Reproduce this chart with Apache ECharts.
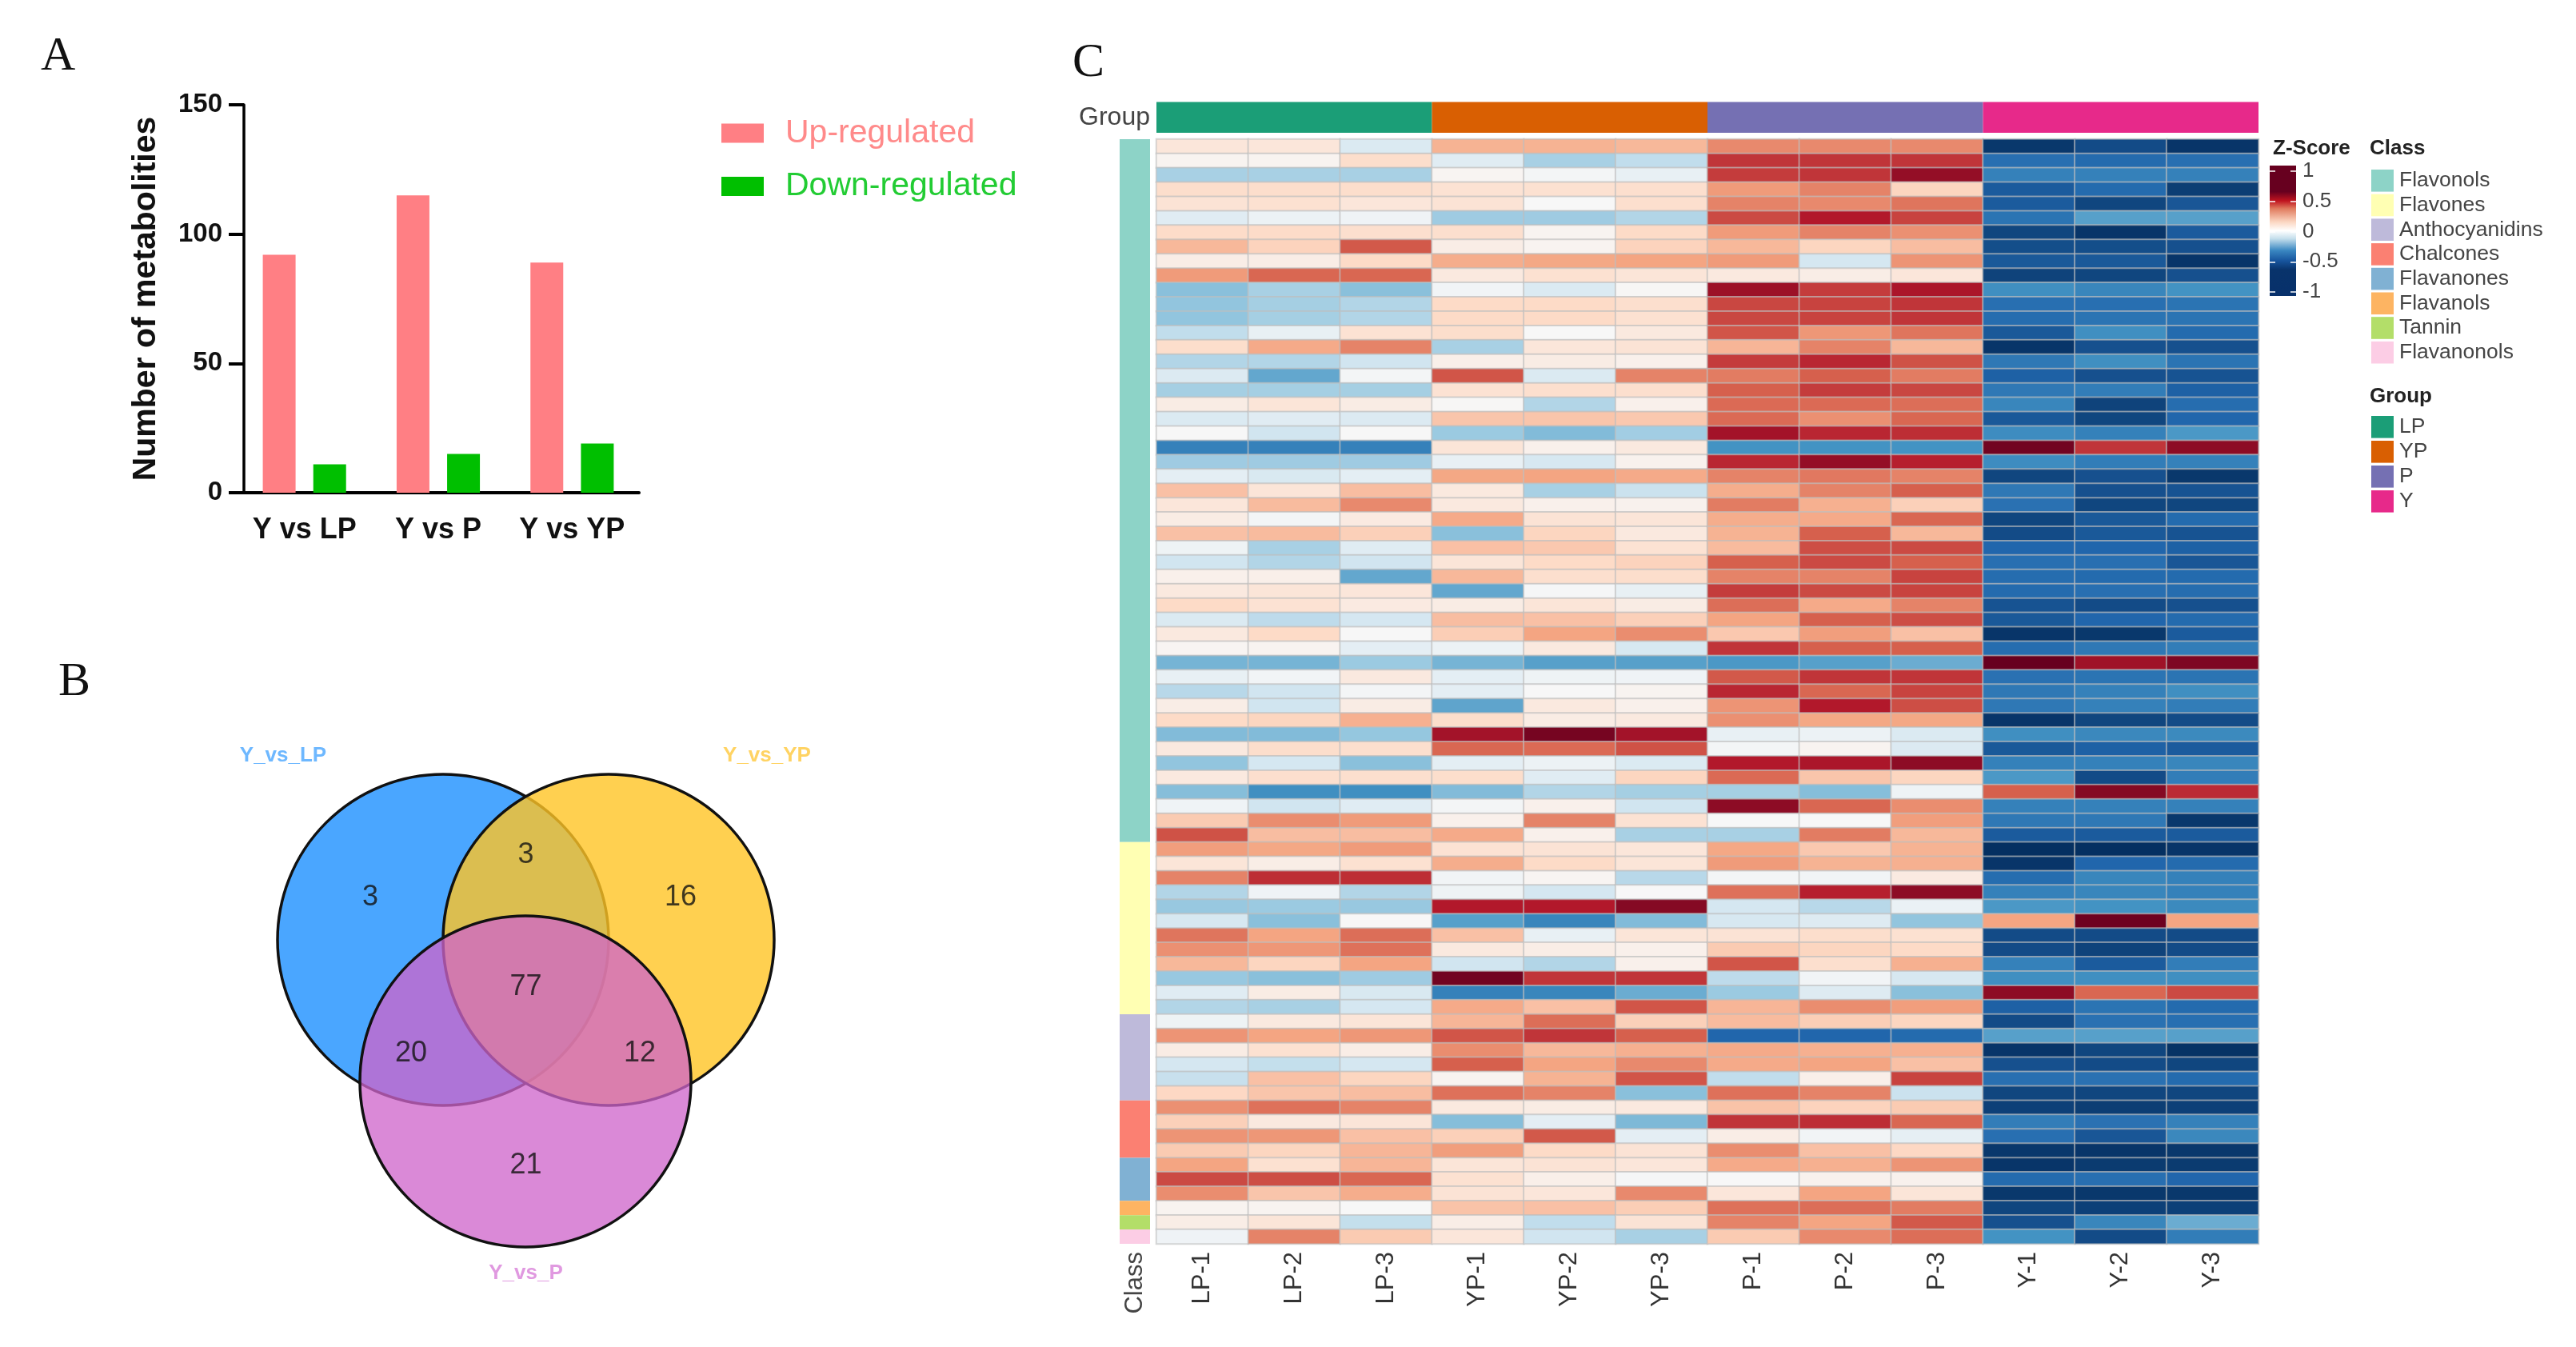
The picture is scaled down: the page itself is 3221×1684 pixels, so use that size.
<!DOCTYPE html>
<html><head><meta charset="utf-8">
<style>html,body{margin:0;padding:0;background:#fff}#c{width:3221px;height:1684px}</style>
<script src="https://cdn.jsdelivr.net/npm/echarts@6/dist/echarts.min.js"></script>
</head><body><div id="c"></div>
<script>
// ---- Panel A ----
const comparisons = ['Y vs LP','Y vs P','Y vs YP'];
const upRegulated = [92,115,89];
const downRegulated = [11,15,19];
// ---- Panel B ----
const vennSets = ['Y_vs_LP','Y_vs_YP','Y_vs_P'];
const vennCounts = [3,3,16,77,20,12,21];
// ---- Panel C ----
const samples = ['LP-1','LP-2','LP-3','YP-1','YP-2','YP-3','P-1','P-2','P-3','Y-1','Y-2','Y-3'];
const groupNames = ['LP','YP','P','Y'];
const groupSizes = [3,3,3,3];
const classNames = ['Flavonols','Flavones','Anthocyanidins','Chalcones','Flavanones','Flavanols','Tannin','Flavanonols'];
const classSizes = [49,12,6,4,3,1,1,1];
const LP1=[.12,.03,-.33,.18,.14,-.12,.19,.33,.07,.43,-.42,-.4,-.4,-.25,.18,-.3,-.14,-.34,.08,-.15,0,-.68,-.36,-.1,.3,.12,.08,.3,-.05,-.2,.05,.1,.2,-.15,.1,.02,-.47,-.08,-.28,.07,.2,-.44,.1,-.4,.1,-.43,-.04,.26,.64,.42,.13,.5,-.3,-.38,-.17,.54,.46,.33,-.38,-.12,-.3,-.05,.45,.08,-.18,-.23,.21,.46,.24,.45,.26,.4,.66,.47,.03,.07,-.04];
const LP2=[.12,.03,-.33,.18,.16,-.06,.19,.23,.07,.58,-.33,-.34,-.34,-.08,.38,-.3,-.52,-.34,.13,-.12,-.2,-.68,-.36,-.16,.13,.32,-.02,.32,-.33,-.3,.06,.13,.15,-.26,.2,.03,-.47,-.03,-.2,-.2,.22,-.44,.18,-.18,.17,-.62,-.2,.47,.31,.39,.07,.74,-.04,-.37,-.42,.4,.44,.22,-.42,.08,-.33,.1,.4,.16,-.24,.3,.28,.55,.1,.44,.22,.16,.65,.28,.03,.13,.5];
const LP3=[-.15,.18,-.33,.18,.12,-.04,.17,.62,.2,.58,-.42,-.3,-.3,.15,.5,-.2,-.02,-.34,.08,-.14,0,-.68,-.36,-.1,.31,.48,.09,.24,-.12,-.2,-.52,.12,.09,-.18,0,-.1,-.37,.1,-.02,.08,.36,-.39,.17,-.42,.17,-.62,-.12,.43,.31,.43,.16,.74,-.3,-.38,0,.56,.55,.4,-.36,-.16,-.18,.13,.44,.07,-.18,.22,.31,.5,.13,.3,.34,.34,.58,.37,0,-.24,.26];
const YP1=[.35,-.12,.02,.15,.14,-.36,.17,.07,.37,.1,-.03,.2,.2,.18,-.33,.06,.63,.15,.01,.28,-.37,.13,-.08,.39,.1,.1,.38,-.42,.3,.13,.33,-.52,.08,.31,.25,-.06,-.47,-.1,-.1,-.53,.18,.84,.58,-.1,.18,-.44,-.02,.05,.38,.15,.37,-.03,-.05,.8,-.55,.3,.1,-.2,.97,-.68,.38,.34,.63,.47,.6,.03,.55,.1,-.43,.24,.42,.13,.16,.14,.29,.07,.12];
const YP2=[.35,-.33,-.02,.16,0,-.36,.03,.03,.39,.16,-.15,.2,.2,0,.12,.08,-.15,.17,-.3,.28,-.44,.05,-.17,.4,-.33,.05,.14,.22,.27,.2,.17,-.01,.13,.3,.4,.1,-.55,-.05,0,.1,.08,.96,.57,-.06,-.12,-.3,.05,.5,.05,.14,.2,.02,-.18,.8,-.66,-.08,.07,-.3,.72,-.66,.3,.56,.72,.33,.4,.35,.5,.08,-.1,.62,.2,.14,.06,.12,.3,-.25,-.2];
const YP3=[.33,-.25,-.08,.17,.17,-.3,.2,.23,.4,.13,.01,.17,.16,.1,.14,.05,.5,.17,.05,.27,-.35,.1,.04,.38,-.22,.04,.13,.1,.15,.23,.18,-.08,.08,.24,.47,-.17,-.55,-.04,.03,.05,.1,.84,.64,-.15,.22,-.34,-.2,.15,-.33,.12,.13,-.28,0,.92,-.44,.13,.05,.05,.72,-.5,.63,.24,.6,.36,.48,.63,-.42,.1,-.45,-.1,.14,.12,-.01,.48,.25,.14,-.33];
const P1=[.48,.72,.7,.43,.5,.66,.43,.33,.43,.1,.86,.67,.67,.63,.34,.7,.52,.6,.57,.57,.84,-.6,.76,.5,.37,.52,.37,.35,.32,.6,.5,.7,.56,.4,.27,.72,-.58,.62,.76,.45,.46,-.08,-.02,.8,.57,-.34,.9,0,-.33,.39,.43,-.02,.55,-.18,-.17,.14,.26,.63,-.26,-.37,.34,.32,-.8,.38,.38,-.25,.55,.29,.72,.07,.47,.38,0,.12,.55,.5,.26];
const P2=[.48,.72,.72,.5,.48,.8,.5,.22,-.18,.07,.7,.68,.68,.44,.5,.76,.6,.7,.57,.46,.76,-.6,.88,.53,.5,.36,.38,.6,.65,.66,.5,.66,.38,.6,.42,.6,-.55,.72,.58,.8,.39,-.06,.03,.82,.28,-.43,.58,0,.52,.27,.35,-.03,.78,-.28,-.13,.18,.22,.17,-.03,-.13,.47,.25,-.8,.36,.4,.06,.5,.23,.74,-.03,.3,.36,.04,.4,.56,.4,.48];
const P3=[.48,.72,.88,.22,.54,.68,.46,.31,.45,.12,.82,.72,.72,.54,.33,.64,.52,.67,.56,.58,.74,-.6,.78,.5,.6,.24,.58,.33,.66,.6,.68,.68,.5,.65,.3,.6,-.5,.72,.68,.65,.39,-.15,-.14,.9,.22,-.05,.47,.42,.33,.35,.36,.09,.9,-.07,-.4,.16,.2,.36,-.17,-.42,.42,.22,-.78,.36,.3,.68,-.22,.26,.58,-.09,.21,.45,.04,.13,.52,.62,.56];
const Y1=[-.97,-.76,-.68,-.84,-.84,-.74,-.92,-.89,-.85,-.93,-.62,-.76,-.77,-.85,-.98,-.72,-.82,-.72,-.66,-.85,-.63,.97,-.63,-.92,-.72,-.75,-.92,-.9,-.8,-.76,-.77,-.78,-.87,-.85,-.98,-.77,1,-.75,-.72,-.72,-.98,-.62,-.85,-.68,-.58,.6,-.68,-.72,-.84,-1,-.98,-.77,-.68,-.58,.4,-.9,-.9,-.68,-.62,.9,-.82,-.9,-.55,-.98,-.88,-.76,-.92,-.94,-.7,-.76,-.97,-.98,-.78,-.97,-.92,-.88,-.6];
const Y2=[-.9,-.78,-.68,-.78,-.92,-.55,-.98,-.89,-.85,-.92,-.66,-.76,-.74,-.62,-.88,-.62,-.88,-.7,-.93,-.92,-.68,.72,-.7,-.88,-.88,-.92,-.85,-.85,-.8,-.76,-.78,-.76,-.9,-.8,-.97,-.72,.85,-.74,-.68,-.68,-.92,-.65,-.82,-.68,-.9,.92,-.68,-.72,-.84,-1,-.8,-.66,-.66,-.6,.98,-.9,-.93,-.84,-.62,.58,-.74,-.75,-.55,-.92,-.9,-.75,-.92,-.95,-.75,-.86,-.98,-.96,-.76,-.97,-.94,-.66,-.9];
const Y3=[-.98,-.76,-.68,-.95,-.86,-.55,-.84,-.88,-.98,-.88,-.6,-.74,-.74,-.78,-.88,-.74,-.87,-.82,-.77,-.8,-.58,.9,-.68,-.97,-.87,-.92,-.78,-.87,-.82,-.86,-.78,-.77,-.88,-.78,-.84,-.7,.94,-.74,-.62,-.7,-.9,-.64,-.84,-.66,-.7,.75,-.68,-.97,-.84,-.98,-.78,-.68,-.68,-.64,.4,-.9,-.9,-.7,-.62,.66,-.78,-.76,-.55,-.99,-.92,-.78,-.92,-.94,-.68,-.65,-.97,-.96,-.8,-.97,-.94,-.5,-.7];
const columns = [LP1,LP2,LP3,YP1,YP2,YP3,P1,P2,P3,Y1,Y2,Y3];
const rowIds = LP1.map((_,i)=>String(i+1));
const cells = [];
columns.forEach((col,x)=>col.forEach((v,y)=>cells.push([x,y,v])));

const classColors = ['#8dd3c7','#ffffb3','#bebada','#fb8072','#80b1d3','#fdb462','#b3de69','#fccde5'];
const groupColors = ['#1b9e77','#d95f02','#7570b3','#e7298a'];
const rdbu = ['#053061','#2166ac','#4393c3','#92c5de','#d1e5f0','#f7f7f7','#fddbc7','#f4a582','#d6604d','#b2182b','#67001f'];
const SANS='"Liberation Sans", Arial, sans-serif', SERIF='"Liberation Serif", serif';
const hide={show:false};

// grids: 0 bars, 1 venn, 2 heatmap, 3 group bar, 4 class bar, 5 colour key
const option={
  animation:false,
  backgroundColor:'#ffffff',
  title:[
    {text:'A',left:46,top:36,textStyle:{fontFamily:SERIF,fontSize:60,fontWeight:'normal',color:'#111'}},
    {text:'B',left:68,top:818,textStyle:{fontFamily:SERIF,fontSize:60,fontWeight:'normal',color:'#111'}},
    {text:'C',left:1336,top:44,textStyle:{fontFamily:SERIF,fontSize:60,fontWeight:'normal',color:'#111'}},
    {text:'Z-Score',left:2837,top:168,textStyle:{fontFamily:SANS,fontSize:26,fontWeight:'bold',color:'#222'}},
    {text:'Class',left:2958,top:168,textStyle:{fontFamily:SANS,fontSize:26,fontWeight:'bold',color:'#222'}},
    {text:'Group',left:2958,top:478,textStyle:{fontFamily:SANS,fontSize:26,fontWeight:'bold',color:'#222'}}
  ],
  graphic:[{type:'rect',z:-1,shape:{x:2838,y:207,width:33,height:163},style:{fill:new echarts.graphic.LinearGradient(0,0,0,1,[
    {offset:0,color:'#67001f'},{offset:.2,color:'#67001f'},{offset:.27,color:'#c0141f'},{offset:.33,color:'#e07b5e'},
    {offset:.43,color:'#fbd5c0'},{offset:.5,color:'#ffffff'},{offset:.56,color:'#c5dfec'},{offset:.65,color:'#3b88c2'},
    {offset:.73,color:'#17559e'},{offset:.8,color:'#08336b'},{offset:1,color:'#07306b'}])}}],
  legend:[
    {left:902,top:146,padding:0,orient:'vertical',itemWidth:53,itemHeight:24,itemGap:25.5,icon:'rect',selectedMode:false,
     data:[{name:'Up-regulated',textStyle:{color:'#ff8a8a'}},{name:'Down-regulated',textStyle:{color:'#22cc33'}}],
     textStyle:{fontFamily:SANS,fontSize:41,padding:[0,0,0,22]}},
    {left:2965,top:212,padding:0,orient:'vertical',itemWidth:28,itemHeight:27.6,itemGap:3.1,icon:'rect',selectedMode:false,
     data:classNames,textStyle:{fontFamily:SANS,fontSize:26.5,color:'#444',padding:[0,0,0,2]}},
    {left:2965,top:520,padding:0,orient:'vertical',itemWidth:28,itemHeight:27.6,itemGap:3.4,icon:'rect',selectedMode:false,
     data:groupNames,textStyle:{fontFamily:SANS,fontSize:26.5,color:'#444',padding:[0,0,0,2]}}
  ],
  grid:[
    {left:297,top:131,width:502,height:485},
    {left:0,top:900,width:1100,height:700},
    {left:1446,top:174,width:1378,height:1381},
    {left:1446,top:127.5,width:1378,height:38.5},
    {left:1400,top:174,width:38,height:1381},
    {left:2838,top:214,width:33,height:151}
  ],
  xAxis:[
    {gridIndex:0,type:'category',data:comparisons,
     axisLine:{lineStyle:{color:'#000',width:4}},
     axisTick:{alignWithLabel:true,length:21,lineStyle:{color:'#000',width:3}},
     axisLabel:{fontFamily:SANS,fontSize:36,fontWeight:'bold',color:'#111',margin:29,interval:0}},
    {gridIndex:1,type:'value',min:0,max:1100,show:false},
    {gridIndex:2,type:'category',data:samples,position:'bottom',
     axisLine:hide,axisTick:hide,splitLine:hide,
     axisLabel:{fontFamily:SANS,fontSize:31,color:'#333',rotate:90,margin:10,interval:0}},
    {gridIndex:3,type:'value',min:0,max:12,show:false},
    {gridIndex:4,type:'category',data:['Class'],axisLine:hide,axisTick:hide,
     axisLabel:{fontFamily:SANS,fontSize:31,color:'#444',rotate:90,margin:10}},
    {gridIndex:5,type:'value',min:0,max:1,show:false}
  ],
  yAxis:[
    {gridIndex:0,type:'value',min:0,max:150,interval:50,offset:-8,splitLine:hide,
     name:'Number of metabolities',nameLocation:'middle',nameRotate:90,nameGap:102,
     nameTextStyle:{fontFamily:SANS,fontSize:41,fontWeight:'bold',color:'#111'},
     axisLine:{show:true,lineStyle:{color:'#000',width:3.5}},
     axisTick:{show:true,length:19,lineStyle:{color:'#000',width:4}},
     axisLabel:{fontFamily:SANS,fontSize:33,fontWeight:'bold',color:'#111',margin:27}},
    {gridIndex:1,type:'value',min:0,max:700,inverse:true,show:false},
    {gridIndex:2,type:'category',data:rowIds,inverse:true,show:false},
    {gridIndex:3,type:'category',data:['Group'],axisLine:hide,axisTick:hide,
     axisLabel:{fontFamily:SANS,fontSize:32,color:'#444',margin:8,padding:[4,0,0,0]}},
    {gridIndex:4,type:'value',min:0,max:LP1.length,inverse:true,show:false},
    {gridIndex:5,type:'value',min:-1,max:1,interval:.5,position:'right',
     axisLine:hide,axisTick:hide,
     splitLine:{show:true,lineStyle:{color:'rgba(255,255,255,.75)',width:2,type:[7,19,7]}},
     axisLabel:{fontFamily:SANS,fontSize:26,color:'#444',margin:8,formatter:v=>String(v)}}
  ],
  visualMap:[{show:false,type:'continuous',seriesIndex:[2+classNames.length+groupNames.length+1],min:-1,max:1,dimension:2,inRange:{color:rdbu}}],
  series:[]
};
// bars
option.series.push(
 {name:'Up-regulated',type:'bar',xAxisIndex:0,yAxisIndex:0,data:upRegulated,barWidth:41,barGap:'54%',itemStyle:{color:'#ff7f84'}},
 {name:'Down-regulated',type:'bar',xAxisIndex:0,yAxisIndex:0,data:downRegulated,barWidth:41,itemStyle:{color:'#00bf00'}}
);
// class + group annotation bars
classNames.forEach((n,i)=>option.series.push({name:n,type:'bar',xAxisIndex:4,yAxisIndex:4,stack:'class',barWidth:'100%',data:[classSizes[i]],itemStyle:{color:classColors[i]}}));
groupNames.forEach((n,i)=>option.series.push({name:n,type:'bar',xAxisIndex:3,yAxisIndex:3,stack:'group',barWidth:'100%',data:[groupSizes[i]],itemStyle:{color:groupColors[i]}}));
// venn
option.series.push({type:'scatter',xAxisIndex:1,yAxisIndex:1,symbol:'circle',symbolSize:414,silent:true,z:3,
  data:[
   {value:[554,275],itemStyle:{color:'#4aa6ff'}},
   {value:[761,275],itemStyle:{color:'rgba(255,196,36,.8)'}},
   {value:[657,452],itemStyle:{color:'rgba(206,100,203,.76)'}}
  ],itemStyle:{opacity:1,borderColor:'#111',borderWidth:3.5}});
// heatmap (index must equal visualMap seriesIndex)
option.series.push({type:'heatmap',xAxisIndex:2,yAxisIndex:2,data:cells,progressive:0,
  itemStyle:{borderColor:'rgba(190,190,190,.6)',borderWidth:2},emphasis:{disabled:true}});
// venn text
const vennPos=[[463,222],[657.5,169],[851,222],[657.5,334],[514,417.5],[800,417.5],[657.5,557]];
option.series.push({type:'scatter',xAxisIndex:1,yAxisIndex:1,symbolSize:1,silent:true,z:5,itemStyle:{color:'transparent'},
  label:{show:true,position:'inside',fontFamily:SANS,fontSize:36,color:'#111',formatter:p=>p.data.name},
  data:vennCounts.map((c,i)=>({name:String(c),value:vennPos[i]}))});
const vennLab=[[354,44.5,'#4aa6ff'],[959,44.5,'#ffc83c'],[657.5,692,'#d87fd8']];
option.series.push({type:'scatter',xAxisIndex:1,yAxisIndex:1,symbolSize:1,silent:true,z:5,itemStyle:{color:'transparent'},
  label:{show:true,position:'inside',fontFamily:SANS,fontSize:26,fontWeight:'bold',formatter:p=>p.data.name},
  data:vennSets.map((s,i)=>({name:s,value:vennLab[i].slice(0,2),label:{color:vennLab[i][2]}}))});
const chart=echarts.init(document.getElementById('c'),null,{renderer:'canvas',width:3221,height:1684});
chart.setOption(option);
</script></body></html>
